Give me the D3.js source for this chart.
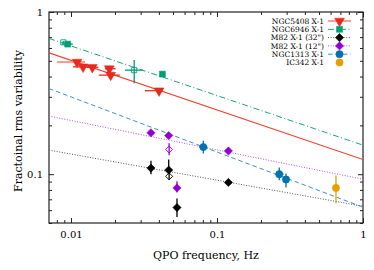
<!DOCTYPE html>
<html>
<head>
<meta charset="utf-8">
<script src="https://cdn.jsdelivr.net/npm/d3@7"></script>
<style>
	body { margin: 0; background: #fff; }
	text { font-family: "DejaVu Serif", serif; fill: #000; }
</style>
</head>
<body>
<div id="chartDiv"></div>
<script>
;(function() {

	// rows: freq, freq lo, freq hi, rms, rms lo, rms hi, open marker
	var ngc5408 = [
		[0.0110, 0.0080, 0.0125, 0.491, 0.482, 0.500, 0],
		[0.0121, 0.0103, 0.0141, 0.459, 0.448, 0.470, 0],
		[0.0140, 0.0128, 0.0154, 0.456, 0.446, 0.466, 0],
		[0.0183, 0.0171, 0.0202, 0.447, 0.436, 0.458, 0],
		[0.0187, 0.0155, 0.0216, 0.408, 0.396, 0.421, 0],
		[0.0401, 0.0321, 0.0427, 0.327, 0.318, 0.336, 0]
	];
	var ngc5408Faded = [0];
	var ngc6946 = [
		[0.00886, 0.00872, 0.00902, 0.650, 0.641, 0.659, 1],
		[0.00949, 0.00865, 0.0103, 0.634, 0.616, 0.652, 0],
		[0.0271, 0.0234, 0.0310, 0.438, 0.363, 0.505, 1],
		[0.0423, 0.0412, 0.0434, 0.414, 0.406, 0.422, 0]
	];
	var m82Wide = [
		[0.0353, 0.0353, 0.0353, 0.109, 0.100, 0.121, 0],
		[0.0467, 0.0467, 0.0467, 0.106, 0.101, 0.123, 0],
		[0.0470, 0.0470, 0.0470, 0.097, 0.092, 0.102, 1],
		[0.0532, 0.0532, 0.0532, 0.0623, 0.0545, 0.0707, 0],
		[0.1197, 0.1197, 0.1197, 0.0889, 0.0860, 0.0920, 0]
	];
	var m82Narrow = [
		[0.0353, 0.0353, 0.0353, 0.180, 0.174, 0.186, 0],
		[0.0467, 0.0467, 0.0467, 0.173, 0.167, 0.179, 0],
		[0.0470, 0.0470, 0.0470, 0.142, 0.131, 0.155, 1],
		[0.0532, 0.0532, 0.0532, 0.0823, 0.0770, 0.0903, 0],
		[0.1197, 0.1197, 0.1197, 0.139, 0.134, 0.144, 0]
	];
	var ngc1313 = [
		[0.0806, 0.0757, 0.0858, 0.147, 0.134, 0.161, 0],
		[0.267, 0.252, 0.285, 0.100, 0.0919, 0.110, 0],
		[0.297, 0.285, 0.310, 0.0927, 0.0828, 0.101, 0]
	];
	var ic342 = [
		[0.653, 0.653, 0.653, 0.0823, 0.0661, 0.0980, 0]
	];

	var legendNames = ["NGC5408 X-1", "NGC6946 X-1", "M82 X-1 (32\")", "M82 X-1 (12\")", "NGC1313 X-1", "IC342 X-1"];
	// power law fits rms = norm * freq^(-index)
	var fitNorm = [0.123, 0.151, 0.0634, 0.0931, 0.0626, null];
	var fitIndex = [0.306, 0.306, 0.161, 0.181, 0.340, null];

	var xMajorTicks = [0.01, 0.1, 1];
	var xTickLabels = ["0.01", "0.1", "1"];
	var yMajorTicks = [0.1, 1];
	var yTickLabels = ["0.1", "1"];
	var xAxisLabelHeader = "QPO frequency, Hz";
	var yAxisLabelHeader = "Fractoinal rms variability";

	var width = 374;
	var height = 270;
	var margin = { top: 12, right: 11, bottom: 47, left: 49 };

	var series = [ngc5408, ngc6946, m82Wide, m82Narrow, ngc1313, ic342];
	var colors = ["#e8291c", "#009e73", "#000000", "#9400d3", "#0072b2", "#e69f00"];
	var lineColors = ["#f0402c", "#1aa37c", "#555555", "#b54ee8", "#3b8fd0", null];
	var dashes = [null, "6,2.5,1,2.5", "1,1.6", "1,1.6", "4.5,3", null];
	var shapes = ["tri", "square", "diamond", "diamond", "circle", "circle"];

	var chart, chartWidth, chartHeight;

	init();

	function init() {
		chartWidth = width - margin.left - margin.right;
		chartHeight = height - margin.top - margin.bottom;

		chart = d3.select("#chartDiv").append("svg")
			.attr("width", width)
			.attr("height", height);

		chart.xScale = d3.scaleLog()
			.domain([0.00707, 1])
			.range([0, chartWidth]);
		chart.yScale = d3.scaleLog()
			.domain([0.05, 1])
			.range([chartHeight, 0]);

		chart.plotArea = chart.append("g")
			.attr("transform", "translate(" + margin.left + "," + margin.top + ")");

		createAxes();
		drawFits();
		drawPoints();
		drawLegend();
	}

	function minorTicks(domain) {
		var out = [];
		for (var e = -3; e <= 0; e++) {
			for (var k = 2; k <= 9; k++) {
				var v = k * Math.pow(10, e);
				if (v >= domain[0] && v <= domain[1]) out.push(v);
			}
		}
		return out;
	}

	function createAxes() {
		var p = chart.plotArea;
		var xMinor = minorTicks(chart.xScale.domain());
		var yMinor = minorTicks(chart.yScale.domain());

		function clean(g) {
			g.select(".domain").remove();
			g.selectAll(".tick line").attr("stroke", "#222").attr("stroke-width", 1);
		}

		// bottom
		p.append("g").attr("transform", "translate(0," + chartHeight + ")")
			.call(d3.axisBottom(chart.xScale).tickValues(xMinor).tickSize(-3).tickFormat(""))
			.call(clean);
		p.append("g").attr("transform", "translate(0," + chartHeight + ")")
			.call(d3.axisBottom(chart.xScale).tickValues(xMajorTicks).tickSize(-5).tickPadding(8)
				.tickFormat(function(d, i) { return xTickLabels[i]; }))
			.call(clean)
			.selectAll("text").style("font-size", "10px").style("font-family", "DejaVu Serif");
		// top
		p.append("g")
			.call(d3.axisTop(chart.xScale).tickValues(xMinor).tickSize(-3).tickFormat(""))
			.call(clean);
		p.append("g")
			.call(d3.axisTop(chart.xScale).tickValues(xMajorTicks).tickSize(-5).tickFormat(""))
			.call(clean);
		// left
		p.append("g")
			.call(d3.axisLeft(chart.yScale).tickValues(yMinor).tickSize(-3).tickFormat(""))
			.call(clean);
		p.append("g")
			.call(d3.axisLeft(chart.yScale).tickValues(yMajorTicks).tickSize(-5).tickPadding(6)
				.tickFormat(function(d, i) { return yTickLabels[i]; }))
			.call(clean)
			.selectAll("text").style("font-size", "10px").style("font-family", "DejaVu Serif");
		// right
		p.append("g").attr("transform", "translate(" + chartWidth + ",0)")
			.call(d3.axisRight(chart.yScale).tickValues(yMinor).tickSize(-3).tickFormat(""))
			.call(clean);
		p.append("g").attr("transform", "translate(" + chartWidth + ",0)")
			.call(d3.axisRight(chart.yScale).tickValues(yMajorTicks).tickSize(-5).tickFormat(""))
			.call(clean);

		// frame
		p.append("rect")
			.attr("width", chartWidth).attr("height", chartHeight)
			.attr("fill", "none").attr("stroke", "#222").attr("stroke-width", 1.2);

		chart.append("text")
			.style("font-size", "11px")
			.attr("text-anchor", "middle")
			.attr("x", margin.left + chartWidth / 2)
			.attr("y", 259)
			.text(xAxisLabelHeader);

		chart.append("text")
			.style("font-size", "11px")
			.attr("text-anchor", "middle")
			.attr("transform", "translate(22," + 121 + ") rotate(-90)")
			.text(yAxisLabelHeader);
	}

	function drawFits() {
		var dom = chart.xScale.domain();
		chart.plotArea.append("clipPath").attr("id", "clip")
			.append("rect").attr("width", chartWidth).attr("height", chartHeight);
		var g = chart.plotArea.append("g").attr("clip-path", "url(#clip)");
		var line = d3.line()
			.x(function(d) { return chart.xScale(d[0]); })
			.y(function(d) { return chart.yScale(d[1]); });
		for (var i = 0; i < fitNorm.length; i++) {
			if (fitNorm[i] === null) continue;
			var pts = [dom[0], dom[1]].map(function(f) { return [f, fitNorm[i] * Math.pow(f, -fitIndex[i])]; });
			g.append("path")
				.attr("d", line(pts))
				.attr("fill", "none")
				.attr("stroke", lineColors[i])
				.attr("stroke-width", i == 0 ? 1.1 : 1)
				.attr("stroke-dasharray", dashes[i]);
		}
	}

	function symbolPath(shape) {
		if (shape == "tri") return { d: d3.symbol(d3.symbolTriangle, 42)(), rot: 180 };
		if (shape == "square") return { d: d3.symbol(d3.symbolSquare, 36)(), rot: 0 };
		if (shape == "diamond") return { d: d3.symbol(d3.symbolSquare, 34)(), rot: 45 };
		return { d: d3.symbol(d3.symbolCircle, 42)(), rot: 0 };
	}

	function drawMarker(g, shape, color, cx, cy, open) {
		var s = symbolPath(shape);
		g.append("path")
			.attr("d", s.d)
			.attr("transform", "translate(" + cx + "," + cy + ") rotate(" + s.rot + ")" + (open ? " scale(0.85)" : ""))
			.attr("fill", open ? "none" : color)
			.attr("stroke", color)
			.attr("stroke-width", open ? 1 : 0.5);
	}

	function drawPoints() {
		var g = chart.plotArea.append("g");
		series.forEach(function(data, si) {
			data.forEach(function(d, i) {
				var faded = si == 0 && ngc5408Faded.indexOf(i) >= 0;
				var col = colors[si];
				var cx = chart.xScale(d[0]), cy = chart.yScale(d[3]);
				g.append("line")
					.attr("x1", chart.xScale(d[1])).attr("x2", chart.xScale(d[2]))
					.attr("y1", cy).attr("y2", cy)
					.attr("stroke", faded ? "#f59a90" : col).attr("stroke-width", faded ? 2 : 1.3);
				g.append("line")
					.attr("x1", cx).attr("x2", cx)
					.attr("y1", chart.yScale(d[4])).attr("y2", chart.yScale(d[5]))
					.attr("stroke", col).attr("stroke-width", 1.3);
				drawMarker(g, shapes[si], col, cx, cy, d[6] == 1);
			});
		});
	}

	function drawLegend() {
		var g = chart.append("g");
		legendNames.forEach(function(name, i) {
			var yy = 21 + i * 8.3;
			g.append("text")
				.style("font-size", "7.5px")
				.attr("text-anchor", "end")
				.attr("x", 324)
				.attr("y", yy + 2.6)
				.text(name);
			if (lineColors[i]) {
				g.append("line")
					.attr("x1", 328).attr("x2", 351)
					.attr("y1", yy).attr("y2", yy)
					.attr("stroke", lineColors[i])
					.attr("stroke-width", 1)
					.attr("stroke-dasharray", dashes[i]);
			}
			drawMarker(g, shapes[i], colors[i], 339.5, yy, false);
		});
	}

})();
</script>
</body>
</html>
